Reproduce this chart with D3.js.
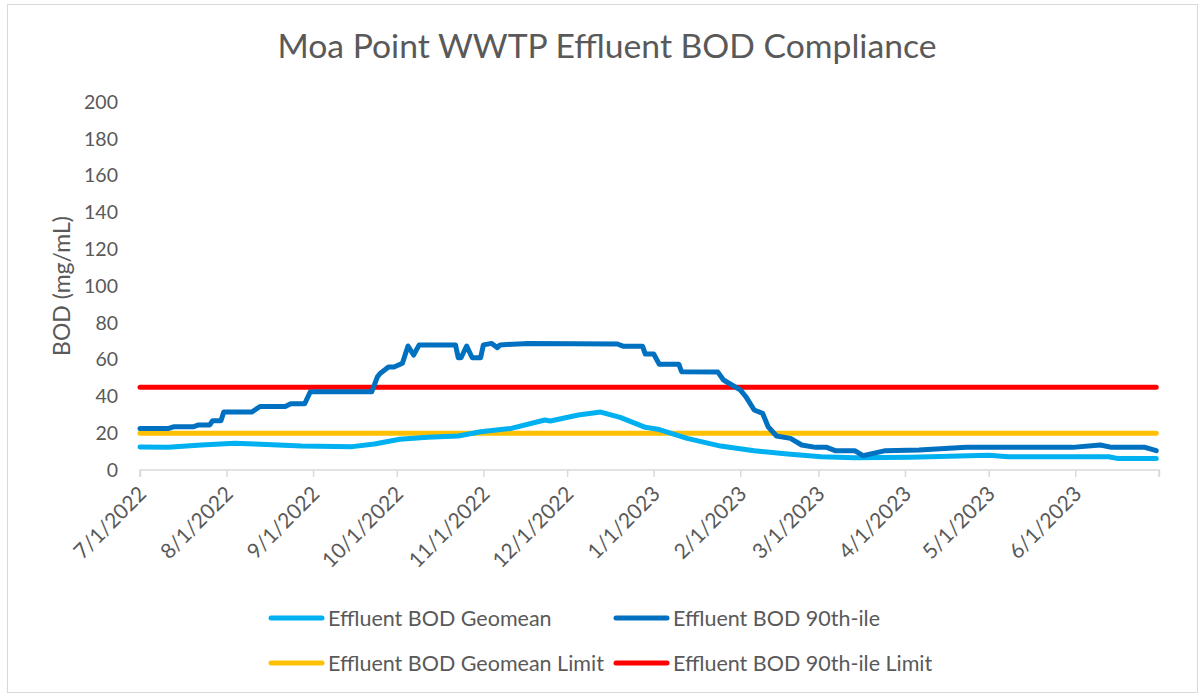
<!DOCTYPE html>
<html>
<head>
<meta charset="utf-8">
<script src="https://cdn.jsdelivr.net/npm/d3@7"></script>
<style>
  html, body { margin: 0; padding: 0; background: #fff; }
  svg { display: block; }
  text { font-family: Lato, "Open Sans", sans-serif; fill: #595959; }
</style>
</head>
<body>
<svg id="chart" width="1203" height="697"></svg>
<script>
// ---------------- DATA ----------------
const title = "Moa Point WWTP Effluent BOD Compliance";
const yAxisTitle = "BOD (mg/mL)";
const yTicks = [0, 20, 40, 60, 80, 100, 120, 140, 160, 180, 200];
const xTickLabels = ["7/1/2022", "8/1/2022", "9/1/2022", "10/1/2022", "11/1/2022", "12/1/2022",
                     "1/1/2023", "2/1/2023", "3/1/2023", "4/1/2023", "5/1/2023", "6/1/2023"];
const xAxisEnd = "7/1/2023";

const geomeanDates = ["7/1/2022","7/11/2022","7/23/2022","8/4/2022","8/11/2022","8/28/2022","9/15/2022",
  "9/23/2022","10/2/2022","10/12/2022","10/23/2022","10/31/2022","11/11/2022","11/23/2022","11/25/2022",
  "12/5/2022","12/13/2022","12/20/2022","12/29/2022","1/3/2023","1/13/2023","1/25/2023","2/6/2023",
  "2/18/2023","3/2/2023","3/14/2023","4/3/2023","5/1/2023","5/8/2023","6/13/2023","6/16/2023","6/30/2023"];
const geomeanValues = [12.5,12.3,13.6,14.5,14.1,13.0,12.7,
  14.1,16.7,17.8,18.5,20.8,22.6,27.2,26.6,
  29.9,31.5,28.6,23.2,22.0,17.2,13.0,10.5,
  8.7,7.2,6.7,6.9,8.0,7.2,7.2,6.3,6.3];

const p90Dates = ["7/1/2022","7/11/2022","7/13/2022","7/20/2022","7/22/2022","7/26/2022","7/27/2022","7/30/2022",
  "7/31/2022","8/10/2022","8/13/2022","8/22/2022","8/24/2022","8/29/2022","8/31/2022","9/22/2022","9/24/2022",
  "9/25/2022","9/28/2022","9/30/2022","10/3/2022","10/5/2022","10/7/2022","10/9/2022","10/22/2022","10/23/2022",
  "10/24/2022","10/26/2022","10/28/2022","10/31/2022","11/1/2022","11/4/2022","11/6/2022","11/7/2022","11/17/2022",
  "12/19/2022","12/21/2022","12/28/2022","12/29/2022","1/1/2023","1/3/2023","1/10/2023","1/11/2023","1/24/2023",
  "1/26/2023","1/29/2023","2/1/2023","2/3/2023","2/6/2023","2/9/2023","2/11/2023","2/14/2023","2/19/2023",
  "2/23/2023","2/28/2023","3/4/2023","3/7/2023","3/14/2023","3/17/2023","3/25/2023","4/6/2023","4/23/2023",
  "5/31/2023","6/10/2023","6/14/2023","6/26/2023","6/30/2023"];
const p90Values = [22.5,22.5,23.5,23.5,24.5,24.5,26.8,26.8,
  31.5,31.5,34.5,34.5,36.0,36.0,42.5,42.5,50.5,
  52.5,56.0,56.0,58.0,67.4,62.5,68.0,68.0,61.0,
  61.0,67.4,61.0,61.0,68.0,68.8,66.5,68.0,68.8,
  68.5,67.3,67.3,63.0,63.0,57.5,57.5,53.4,53.2,
  48.9,46.2,43.5,39.9,32.6,30.8,23.5,18.5,17.2,
  13.6,12.3,12.3,10.5,10.5,7.8,10.5,10.9,12.3,
  12.3,13.6,12.3,12.3,10.5];

const limitDates = ["7/1/2022", "6/30/2023"];
const geomeanLimitValues = [20, 20];
const p90LimitValues = [45, 45];

const seriesNames = ["Effluent BOD Geomean", "Effluent BOD 90th-ile",
                     "Effluent BOD Geomean Limit", "Effluent BOD 90th-ile Limit"];
const seriesColors = ["#00B0F0", "#0070C0", "#FFC000", "#FF0000"];

// ---------------- CHART ----------------
const parse = d3.timeParse("%m/%d/%Y");
const svg = d3.select("#chart");
const FONT = "Lato, 'Open Sans', sans-serif";

svg.append("rect").attr("x", 7.5).attr("y", 4.5).attr("width", 1190).attr("height", 688)
  .attr("fill", "#fff").attr("stroke", "#d9d9d9").attr("stroke-width", 1);

const x = d3.scaleTime().domain([parse(xTickLabels[0]), parse(xAxisEnd)]).range([140, 1159]);
const y = d3.scaleLinear().domain([0, 200]).range([470, 102]);

// title
svg.append("text").attr("x", 607).attr("y", 58).attr("text-anchor", "middle")
  .style("font-size", "33.7px").text(title);

// y axis labels
const yAxis = d3.axisLeft(y).tickValues(yTicks).tickSize(0).tickPadding(0);
const gy = svg.append("g").attr("transform", "translate(118,0)").call(yAxis);
gy.select(".domain").remove();
gy.selectAll("text").style("font-size", "19.5px").style("fill", "#595959").style("font-family", FONT);

// y axis title
svg.append("text").attr("transform", "translate(70,286) rotate(-90)")
  .attr("text-anchor", "middle").style("font-size", "23px").text(yAxisTitle);

// x axis
const xTickDates = xTickLabels.map(parse).concat([parse(xAxisEnd)]);
const xAxis = d3.axisBottom(x).tickValues(xTickDates).tickSize(7)
  .tickFormat((d, i) => i < xTickLabels.length ? xTickLabels[i] : "");
const gx = svg.append("g").attr("transform", "translate(0,470)").call(xAxis);
gx.select(".domain").attr("stroke", "#d9d9d9").attr("stroke-width", 1.5)
  .attr("d", `M${x.range()[0]},7V0H${x.range()[1]}V7`);
gx.selectAll(".tick line").attr("stroke", "#d9d9d9").attr("stroke-width", 1.5);
gx.selectAll(".tick text")
  .style("font-size", "21px").style("fill", "#595959").style("font-family", FONT)
  .attr("text-anchor", "end")
  .attr("dy", "0.35em")
  .attr("transform", "translate(2,20) rotate(-45)")
  .attr("y", 0).attr("x", 0);

// lines
const line = d3.line().x(d => x(d.date)).y(d => y(d.value)).curve(d3.curveLinear);
function mk(dates, vals) { return dates.map((d, i) => ({ date: parse(d), value: vals[i] })); }

const seriesData = [
  mk(limitDates, geomeanLimitValues),
  mk(limitDates, p90LimitValues),
  mk(geomeanDates, geomeanValues),
  mk(p90Dates, p90Values)
];
const seriesColorIdx = [2, 3, 0, 1];
seriesData.forEach((data, i) => {
  svg.append("path").datum(data).attr("d", line)
    .attr("fill", "none").attr("stroke", seriesColors[seriesColorIdx[i]])
    .attr("stroke-width", 5).attr("stroke-linecap", "round").attr("stroke-linejoin", "round");
});

// legend
const legendPos = [[269, 618], [614, 618], [269, 663], [614, 663]];
seriesNames.forEach((name, i) => {
  const [lx, ly] = legendPos[i];
  svg.append("line").attr("x1", lx + 2).attr("x2", lx + 53).attr("y1", ly).attr("y2", ly)
    .attr("stroke", seriesColors[i]).attr("stroke-width", 5).attr("stroke-linecap", "round");
  svg.append("text").attr("x", lx + 59).attr("y", ly).attr("dy", "0.35em")
    .style("font-size", "21.5px").text(name);
});
</script>
</body>
</html>
